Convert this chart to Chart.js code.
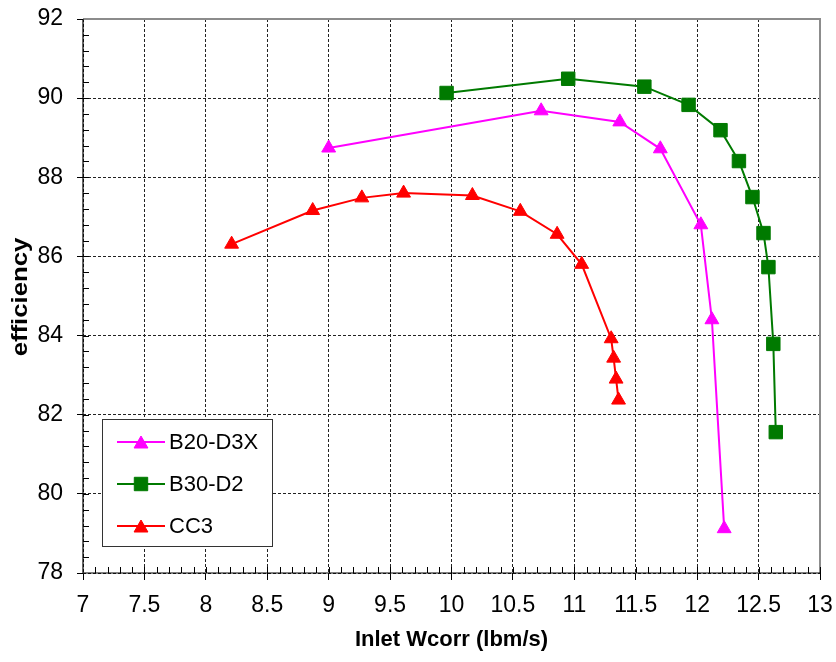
<!DOCTYPE html>
<html>
<head>
<meta charset="utf-8">
<script src="https://cdn.jsdelivr.net/npm/chart.js@4/dist/chart.umd.min.js"></script>
<style>
    html, body { margin: 0; padding: 0; background: #ffffff; }
</style>
</head>
<body>
<canvas id="effChart" width="836" height="662"></canvas>
<script>
// Dados
const seriesNames = ['B20-D3X', 'B30-D2', 'CC3'];

const b20X = [9.00, 10.73, 11.37, 11.70, 12.03, 12.12, 12.22];
const b20Y = [88.74, 89.68, 89.40, 88.72, 86.80, 84.40, 79.12];

const b30X = [9.96, 10.95, 11.57, 11.93, 12.19, 12.34, 12.45, 12.54, 12.58, 12.62, 12.64];
const b30Y = [90.13, 90.49, 90.29, 89.83, 89.19, 88.41, 87.50, 86.59, 85.73, 83.79, 81.56];

const cc3X = [8.21, 8.87, 9.27, 9.61, 10.17, 10.56, 10.86, 11.06, 11.30, 11.32, 11.34, 11.36];
const cc3Y = [86.31, 87.16, 87.48, 87.60, 87.54, 87.14, 86.56, 85.80, 83.92, 83.43, 82.90, 82.37];

const xTicks = [7, 7.5, 8, 8.5, 9, 9.5, 10, 10.5, 11, 11.5, 12, 12.5, 13];
const yTicks = [78, 80, 82, 84, 86, 88, 90, 92];

const yTitle = 'efficiency';
const xTitle = 'Inlet Wcorr (lbm/s)';

const FONT = "'Liberation Sans', Arial, sans-serif";

function toPoints(xs, ys) {
    return xs.map((x, i) => ({ x: x, y: ys[i] }));
}

// Eixos, bordas e marcas menores
const axisPlugin = {
    id: 'axisPlugin',
    beforeDatasetsDraw(chart) {
        const { ctx, chartArea: a, scales } = chart;
        ctx.save();
        ctx.setLineDash([]);

        // borda superior e direita (cinza)
        ctx.strokeStyle = '#8c8c8c';
        ctx.lineWidth = 2;
        ctx.beginPath();
        ctx.moveTo(a.left, a.top);
        ctx.lineTo(a.right, a.top);
        ctx.lineTo(a.right, a.bottom);
        ctx.stroke();

        // eixos pretos
        ctx.strokeStyle = '#000';
        ctx.lineWidth = 1.2;
        ctx.beginPath();
        ctx.moveTo(a.left, a.top);
        ctx.lineTo(a.left, a.bottom);
        ctx.lineTo(a.right, a.bottom);
        ctx.stroke();

        // marcas menores para dentro
        ctx.lineWidth = 1;
        ctx.beginPath();
        for (let v = 7.1; v < 13; v += 0.1) {
            const px = Math.round(scales.x.getPixelForValue(v)) + 0.5;
            ctx.moveTo(px, a.bottom);
            ctx.lineTo(px, a.bottom - 6);
        }
        for (let v = 78.4; v < 92; v += 0.4) {
            const py = Math.round(scales.y.getPixelForValue(v)) + 0.5;
            ctx.moveTo(a.left, py);
            ctx.lineTo(a.left + 6, py);
        }
        ctx.stroke();
        ctx.restore();
    },
    afterDraw(chart) {
        // título do eixo Y (um pouco esticado como no original)
        const { ctx, chartArea: a } = chart;
        ctx.save();
        ctx.translate(21, (a.top + a.bottom) / 2 + 1);
        ctx.rotate(-Math.PI / 2);
        ctx.scale(1.17, 1);
        ctx.fillStyle = '#000';
        ctx.font = 'bold 22px ' + FONT;
        ctx.textAlign = 'center';
        ctx.textBaseline = 'middle';
        ctx.fillText(yTitle, 0, 0);
        ctx.restore();
    }
};

// Legenda dentro da área do gráfico
const boxLegend = {
    id: 'boxLegend',
    afterDraw(chart) {
        const { ctx } = chart;
        ctx.save();
        ctx.fillStyle = '#fff';
        ctx.fillRect(102, 419, 170, 127);
        ctx.strokeStyle = '#333';
        ctx.lineWidth = 1;
        ctx.strokeRect(102.5, 419.5, 170, 127);

        const rows = [442, 484, 526];
        chart.data.datasets.forEach((ds, i) => {
            const y = rows[i];
            ctx.strokeStyle = ds.borderColor;
            ctx.fillStyle = ds.borderColor;
            ctx.lineWidth = 2;
            ctx.beginPath();
            ctx.moveTo(117, y);
            ctx.lineTo(165, y);
            ctx.stroke();
            ctx.lineWidth = 1;
            Chart.helpers.drawPoint(ctx, {
                pointStyle: ds.pointStyle,
                radius: ds.pointRadius,
                borderWidth: 1
            }, 141, y + (ds.pointStyle === 'triangle' ? 2 : 0));
            ctx.fillStyle = '#000';
            ctx.font = '22px ' + FONT;
            ctx.textBaseline = 'middle';
            ctx.textAlign = 'left';
            ctx.fillText(ds.label, 169, y + 1);
        });
        ctx.restore();
    }
};

function serie(label, xs, ys, color, style, radius) {
    return {
        label: label,
        data: toPoints(xs, ys),
        showLine: true,
        borderColor: color,
        backgroundColor: color,
        borderWidth: 2,
        pointStyle: style,
        pointRadius: radius,
        pointHoverRadius: radius,
        pointBorderWidth: 1,
        pointBackgroundColor: color,
        pointBorderColor: color,
        tension: 0
    };
}

const ctx = document.getElementById('effChart').getContext('2d');
const effChart = new Chart(ctx, {
    type: 'scatter',
    data: {
        datasets: [
            serie(seriesNames[0], b20X, b20Y, '#ff00ff', 'triangle', 8),
            serie(seriesNames[1], b30X, b30Y, '#007a00', 'rect', 9.5),
            serie(seriesNames[2], cc3X, cc3Y, '#ff0000', 'triangle', 8)
        ]
    },
    options: {
        responsive: false,
        animation: false,
        layout: { padding: { top: 19, right: 16, left: 0, bottom: 0 } },
        plugins: {
            legend: { display: false },
            tooltip: { enabled: false }
        },
        scales: {
            x: {
                type: 'linear',
                min: 7,
                max: 13,
                afterBuildTicks: s => { s.ticks = xTicks.map(v => ({ value: v })); },
                afterFit: s => { s.height = 89; s.paddingLeft = 0; s.paddingRight = 0; },
                ticks: {
                    color: '#000',
                    font: { family: FONT, size: 23 },
                    padding: 12,
                    maxRotation: 0,
                    autoSkip: false,
                    callback: v => String(v)
                },
                grid: {
                    color: '#222',
                    lineWidth: 1,
                    tickLength: 7,
                    tickColor: '#000',
                    tickWidth: 1
                },
                border: { display: false, dash: [3, 2] },
                title: {
                    display: true,
                    text: xTitle,
                    color: '#000',
                    font: { family: FONT, size: 22, weight: 'bold' },
                    padding: { top: 9, bottom: 9 }
                }
            },
            y: {
                type: 'linear',
                min: 78,
                max: 92,
                afterBuildTicks: s => { s.ticks = yTicks.map(v => ({ value: v })); },
                afterFit: s => { s.width = 83; s.paddingTop = 0; s.paddingBottom = 0; },
                ticks: {
                    color: '#000',
                    font: { family: FONT, size: 23 },
                    padding: 14,
                    callback: v => String(v)
                },
                grid: {
                    color: '#222',
                    lineWidth: 1,
                    tickLength: 6,
                    tickColor: '#000',
                    tickWidth: 1
                },
                border: { display: false, dash: [3, 2] }
            }
        }
    },
    plugins: [axisPlugin, boxLegend]
});
</script>
</body>
</html>
